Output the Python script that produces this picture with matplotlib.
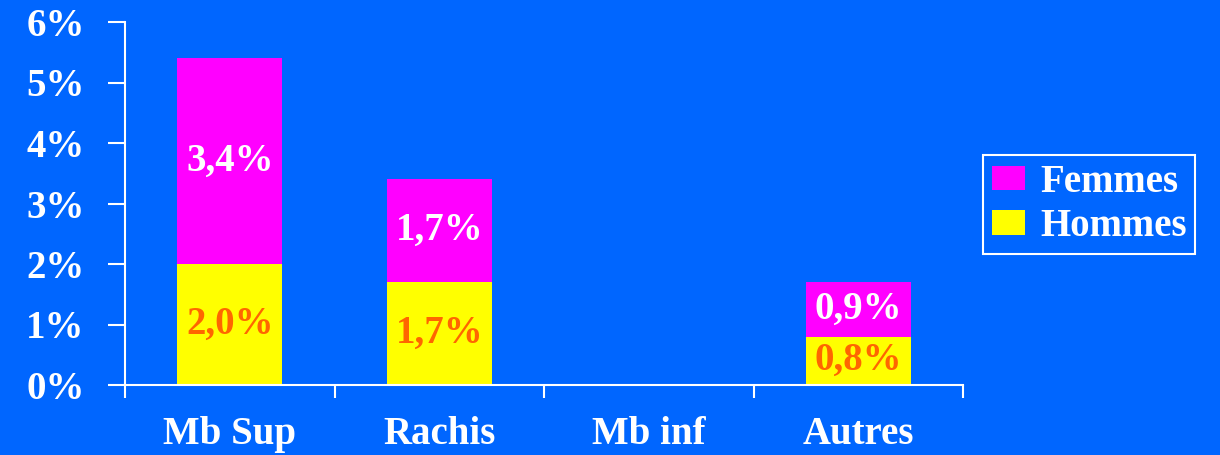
import numpy as np
import matplotlib.pyplot as plt

categories = ["Mb Sup", "Rachis", "Mb inf", "Autres"]
hommes = [2.0, 1.7, 0.0, 0.8]
femmes = [3.4, 1.7, 0.0, 0.9]
hommes_labels = ["2,0%", "1,7%", "", "0,8%"]
femmes_labels = ["3,4%", "1,7%", "", "0,9%"]

bg = "#0066FF"
fs = 28
plt.rcParams['font.family'] = ['Liberation Serif', 'DejaVu Serif']
plt.rcParams['font.weight'] = 'bold'

fig = plt.figure(figsize=(12.2, 4.55), dpi=100, facecolor=bg)
ax = fig.add_axes([125/1220, 1-385/455, (963-125)/1220, (385-22)/455])
ax.set_facecolor(bg)

x = np.arange(len(categories))
b1 = ax.bar(x, hommes, width=0.5, color="#FFFF00", label="Hommes")
b2 = ax.bar(x, femmes, width=0.5, bottom=hommes, color="#FF00FF", label="Femmes")

for i in range(len(categories)):
    if hommes_labels[i]:
        ax.text(x[i], hommes[i]/2, hommes_labels[i], ha="center", va="center",
                color="#FF6600", fontsize=fs, fontweight="bold")
    if femmes_labels[i]:
        ax.text(x[i], hommes[i] + femmes[i]/2, femmes_labels[i], ha="center", va="center",
                color="white", fontsize=fs, fontweight="bold")

ax.set_xlim(-0.5, 3.5)
ax.set_ylim(0, 6)
ax.set_yticks(range(7))
ax.set_yticklabels([str(v) + "%" for v in range(7)])
ax.set_xticks(x)
ax.set_xticklabels(categories)
ax.set_xticks(np.arange(-0.5, 4, 1), minor=True)

for s in ["top", "right"]:
    ax.spines[s].set_visible(False)
for s in ["left", "bottom"]:
    ax.spines[s].set_color("white")
    ax.spines[s].set_linewidth(1.5)

ax.tick_params(axis="y", colors="white", labelsize=fs, length=12, width=1.5, pad=17)
ax.tick_params(axis="x", which="major", colors="white", labelsize=fs, length=0, pad=22)
ax.tick_params(axis="x", which="minor", colors="white", length=9, width=1.5)

leg = fig.legend(handles=[b2, b1], labels=["Femmes", "Hommes"],
                 loc="upper left", bbox_to_anchor=(983/1220, 1-155/455),
                 borderaxespad=0, fontsize=fs, handlelength=0.85, handleheight=0.6,
                 handletextpad=0.4, labelspacing=0.2, borderpad=0.22,
                 fancybox=False, facecolor=bg, edgecolor="white", framealpha=1,
                 labelcolor="white")
leg.get_frame().set_linewidth(1.5)

plt.savefig("out.png", dpi=100, facecolor=bg)
